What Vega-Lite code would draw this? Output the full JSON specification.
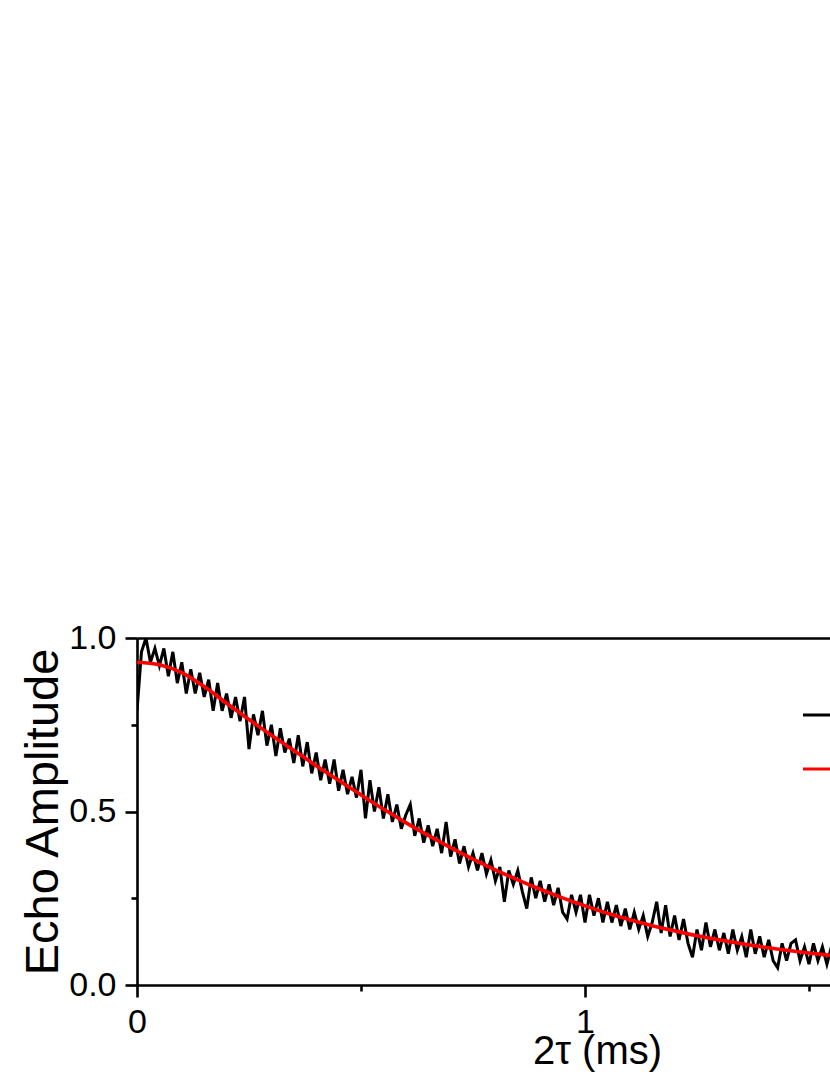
{
  "$schema": "https://vega.github.io/schema/vega-lite/v6.json",
  "autosize": {"type": "none"},
  "width": 693,
  "height": 347,
  "padding": {"left": 137, "top": 638, "right": 0, "bottom": 90},
  "background": "white",
  "config": {
    "view": {"stroke": null},
    "font": "Liberation Sans",
    "axis": {"grid": false, "domainColor": "black", "domainWidth": 2.6, "tickColor": "black", "tickWidth": 2.6, "labelColor": "black", "titleColor": "black", "labelFont": "Liberation Sans", "titleFont": "Liberation Sans", "labelFontSize": 34, "titleFontWeight": "normal", "labelFlush": false, "labelOverlap": false}
  },
  "datasets": {
    "data": [
      {"t":0.00,"amp":0.79,"series":"Data"},{"t":0.01,"amp":0.96,"series":"Data"},{"t":0.02,"amp":1.00,"series":"Data"},{"t":0.03,"amp":0.93,"series":"Data"},{"t":0.04,"amp":0.97,"series":"Data"},{"t":0.05,"amp":0.92,"series":"Data"},{"t":0.06,"amp":0.97,"series":"Data"},{"t":0.07,"amp":0.89,"series":"Data"},{"t":0.08,"amp":0.96,"series":"Data"},{"t":0.09,"amp":0.87,"series":"Data"},
      {"t":0.10,"amp":0.93,"series":"Data"},{"t":0.11,"amp":0.84,"series":"Data"},{"t":0.12,"amp":0.91,"series":"Data"},{"t":0.13,"amp":0.84,"series":"Data"},{"t":0.14,"amp":0.90,"series":"Data"},{"t":0.15,"amp":0.83,"series":"Data"},{"t":0.16,"amp":0.88,"series":"Data"},{"t":0.17,"amp":0.79,"series":"Data"},{"t":0.18,"amp":0.87,"series":"Data"},{"t":0.19,"amp":0.79,"series":"Data"},
      {"t":0.20,"amp":0.84,"series":"Data"},{"t":0.21,"amp":0.77,"series":"Data"},{"t":0.22,"amp":0.83,"series":"Data"},{"t":0.23,"amp":0.76,"series":"Data"},{"t":0.24,"amp":0.83,"series":"Data"},{"t":0.25,"amp":0.68,"series":"Data"},{"t":0.26,"amp":0.78,"series":"Data"},{"t":0.27,"amp":0.72,"series":"Data"},{"t":0.28,"amp":0.79,"series":"Data"},{"t":0.29,"amp":0.69,"series":"Data"},
      {"t":0.30,"amp":0.75,"series":"Data"},{"t":0.31,"amp":0.66,"series":"Data"},{"t":0.32,"amp":0.74,"series":"Data"},{"t":0.33,"amp":0.67,"series":"Data"},{"t":0.34,"amp":0.71,"series":"Data"},{"t":0.35,"amp":0.64,"series":"Data"},{"t":0.36,"amp":0.72,"series":"Data"},{"t":0.37,"amp":0.63,"series":"Data"},{"t":0.38,"amp":0.70,"series":"Data"},{"t":0.39,"amp":0.61,"series":"Data"},
      {"t":0.40,"amp":0.67,"series":"Data"},{"t":0.41,"amp":0.59,"series":"Data"},{"t":0.42,"amp":0.65,"series":"Data"},{"t":0.43,"amp":0.58,"series":"Data"},{"t":0.44,"amp":0.65,"series":"Data"},{"t":0.45,"amp":0.56,"series":"Data"},{"t":0.46,"amp":0.62,"series":"Data"},{"t":0.47,"amp":0.55,"series":"Data"},{"t":0.48,"amp":0.60,"series":"Data"},{"t":0.49,"amp":0.54,"series":"Data"},
      {"t":0.50,"amp":0.62,"series":"Data"},{"t":0.51,"amp":0.48,"series":"Data"},{"t":0.52,"amp":0.59,"series":"Data"},{"t":0.53,"amp":0.50,"series":"Data"},{"t":0.54,"amp":0.57,"series":"Data"},{"t":0.55,"amp":0.48,"series":"Data"},{"t":0.56,"amp":0.55,"series":"Data"},{"t":0.57,"amp":0.47,"series":"Data"},{"t":0.58,"amp":0.52,"series":"Data"},{"t":0.59,"amp":0.45,"series":"Data"},
      {"t":0.60,"amp":0.49,"series":"Data"},{"t":0.61,"amp":0.52,"series":"Data"},{"t":0.62,"amp":0.43,"series":"Data"},{"t":0.63,"amp":0.48,"series":"Data"},{"t":0.64,"amp":0.41,"series":"Data"},{"t":0.65,"amp":0.46,"series":"Data"},{"t":0.66,"amp":0.40,"series":"Data"},{"t":0.67,"amp":0.45,"series":"Data"},{"t":0.68,"amp":0.38,"series":"Data"},{"t":0.69,"amp":0.47,"series":"Data"},
      {"t":0.70,"amp":0.37,"series":"Data"},{"t":0.71,"amp":0.42,"series":"Data"},{"t":0.72,"amp":0.35,"series":"Data"},{"t":0.73,"amp":0.40,"series":"Data"},{"t":0.74,"amp":0.34,"series":"Data"},{"t":0.75,"amp":0.38,"series":"Data"},{"t":0.76,"amp":0.33,"series":"Data"},{"t":0.77,"amp":0.38,"series":"Data"},{"t":0.78,"amp":0.32,"series":"Data"},{"t":0.79,"amp":0.36,"series":"Data"},
      {"t":0.80,"amp":0.30,"series":"Data"},{"t":0.81,"amp":0.34,"series":"Data"},{"t":0.82,"amp":0.24,"series":"Data"},{"t":0.83,"amp":0.33,"series":"Data"},{"t":0.84,"amp":0.29,"series":"Data"},{"t":0.85,"amp":0.33,"series":"Data"},{"t":0.86,"amp":0.27,"series":"Data"},{"t":0.87,"amp":0.22,"series":"Data"},{"t":0.88,"amp":0.31,"series":"Data"},{"t":0.89,"amp":0.25,"series":"Data"},
      {"t":0.90,"amp":0.30,"series":"Data"},{"t":0.91,"amp":0.24,"series":"Data"},{"t":0.92,"amp":0.29,"series":"Data"},{"t":0.93,"amp":0.23,"series":"Data"},{"t":0.94,"amp":0.28,"series":"Data"},{"t":0.95,"amp":0.21,"series":"Data"},{"t":0.96,"amp":0.19,"series":"Data"},{"t":0.97,"amp":0.26,"series":"Data"},{"t":0.98,"amp":0.21,"series":"Data"},{"t":0.99,"amp":0.26,"series":"Data"},
      {"t":1.00,"amp":0.18,"series":"Data"},{"t":1.01,"amp":0.26,"series":"Data"},{"t":1.02,"amp":0.20,"series":"Data"},{"t":1.03,"amp":0.25,"series":"Data"},{"t":1.04,"amp":0.18,"series":"Data"},{"t":1.05,"amp":0.24,"series":"Data"},{"t":1.06,"amp":0.18,"series":"Data"},{"t":1.07,"amp":0.23,"series":"Data"},{"t":1.08,"amp":0.17,"series":"Data"},{"t":1.09,"amp":0.22,"series":"Data"},
      {"t":1.10,"amp":0.16,"series":"Data"},{"t":1.11,"amp":0.21,"series":"Data"},{"t":1.12,"amp":0.16,"series":"Data"},{"t":1.13,"amp":0.20,"series":"Data"},{"t":1.14,"amp":0.14,"series":"Data"},{"t":1.15,"amp":0.18,"series":"Data"},{"t":1.16,"amp":0.24,"series":"Data"},{"t":1.17,"amp":0.15,"series":"Data"},{"t":1.18,"amp":0.23,"series":"Data"},{"t":1.19,"amp":0.14,"series":"Data"},
      {"t":1.20,"amp":0.20,"series":"Data"},{"t":1.21,"amp":0.13,"series":"Data"},{"t":1.22,"amp":0.19,"series":"Data"},{"t":1.23,"amp":0.12,"series":"Data"},{"t":1.24,"amp":0.08,"series":"Data"},{"t":1.25,"amp":0.16,"series":"Data"},{"t":1.26,"amp":0.10,"series":"Data"},{"t":1.27,"amp":0.18,"series":"Data"},{"t":1.28,"amp":0.11,"series":"Data"},{"t":1.29,"amp":0.16,"series":"Data"},
      {"t":1.30,"amp":0.10,"series":"Data"},{"t":1.31,"amp":0.15,"series":"Data"},{"t":1.32,"amp":0.09,"series":"Data"},{"t":1.33,"amp":0.16,"series":"Data"},{"t":1.34,"amp":0.10,"series":"Data"},{"t":1.35,"amp":0.14,"series":"Data"},{"t":1.36,"amp":0.08,"series":"Data"},{"t":1.37,"amp":0.16,"series":"Data"},{"t":1.38,"amp":0.09,"series":"Data"},{"t":1.39,"amp":0.14,"series":"Data"},
      {"t":1.40,"amp":0.08,"series":"Data"},{"t":1.41,"amp":0.13,"series":"Data"},{"t":1.42,"amp":0.07,"series":"Data"},{"t":1.43,"amp":0.05,"series":"Data"},{"t":1.44,"amp":0.12,"series":"Data"},{"t":1.45,"amp":0.07,"series":"Data"},{"t":1.46,"amp":0.12,"series":"Data"},{"t":1.47,"amp":0.13,"series":"Data"},{"t":1.48,"amp":0.07,"series":"Data"},{"t":1.49,"amp":0.11,"series":"Data"},
      {"t":1.50,"amp":0.06,"series":"Data"},{"t":1.51,"amp":0.12,"series":"Data"},{"t":1.52,"amp":0.07,"series":"Data"},{"t":1.53,"amp":0.11,"series":"Data"},{"t":1.54,"amp":0.06,"series":"Data"},{"t":1.55,"amp":0.11,"series":"Data"},{"t":1.56,"amp":0.07,"series":"Data"},{"t":1.57,"amp":0.10,"series":"Data"},{"t":1.58,"amp":0.06,"series":"Data"},{"t":1.59,"amp":0.10,"series":"Data"},{"t":1.60,"amp":0.08,"series":"Data"}
    ],
    "fit": [
      {"t":0.00,"amp":0.930,"series":"Fit"},{"t":0.05,"amp":0.923,"series":"Fit"},{"t":0.10,"amp":0.900,"series":"Fit"},{"t":0.15,"amp":0.860,"series":"Fit"},{"t":0.20,"amp":0.812,"series":"Fit"},{"t":0.25,"amp":0.765,"series":"Fit"},{"t":0.30,"amp":0.720,"series":"Fit"},{"t":0.35,"amp":0.676,"series":"Fit"},{"t":0.40,"amp":0.632,"series":"Fit"},{"t":0.45,"amp":0.590,"series":"Fit"},
      {"t":0.50,"amp":0.548,"series":"Fit"},{"t":0.55,"amp":0.507,"series":"Fit"},{"t":0.60,"amp":0.468,"series":"Fit"},{"t":0.65,"amp":0.431,"series":"Fit"},{"t":0.70,"amp":0.396,"series":"Fit"},{"t":0.75,"amp":0.363,"series":"Fit"},{"t":0.80,"amp":0.332,"series":"Fit"},{"t":0.85,"amp":0.303,"series":"Fit"},{"t":0.90,"amp":0.276,"series":"Fit"},{"t":0.95,"amp":0.251,"series":"Fit"},
      {"t":1.00,"amp":0.228,"series":"Fit"},{"t":1.05,"amp":0.207,"series":"Fit"},{"t":1.10,"amp":0.188,"series":"Fit"},{"t":1.15,"amp":0.171,"series":"Fit"},{"t":1.20,"amp":0.156,"series":"Fit"},{"t":1.25,"amp":0.142,"series":"Fit"},{"t":1.30,"amp":0.130,"series":"Fit"},{"t":1.35,"amp":0.119,"series":"Fit"},{"t":1.40,"amp":0.109,"series":"Fit"},{"t":1.45,"amp":0.100,"series":"Fit"},
      {"t":1.50,"amp":0.092,"series":"Fit"},{"t":1.55,"amp":0.085,"series":"Fit"},{"t":1.60,"amp":0.079,"series":"Fit"}
    ]
  },
  "resolve": {"axis": {"x": "independent", "y": "independent"}},
  "layer": [
    {
      "data": {"name": "data"},
      "mark": {"type": "line", "strokeWidth": 3, "clip": true, "interpolate": "linear"},
      "encoding": {
        "x": {"field": "t", "type": "quantitative", "scale": {"domain": [0, 1.5469], "nice": false, "zero": false},
          "axis": {"orient": "bottom", "values": [0, 1], "format": "d", "tickSize": 12, "labelPadding": 8, "domain": true,
            "title": "2τ (ms)", "titleFontSize": 40, "titleX": 460, "titleY": 78, "titleBaseline": "alphabetic", "titleAlign": "center", "titleAnchor": null}},
        "y": {"field": "amp", "type": "quantitative", "scale": {"domain": [0, 1], "nice": false},
          "axis": {"orient": "left", "values": [0, 0.5, 1], "format": ".1f", "tickSize": 12, "labelPadding": 9, "domain": true,
            "title": "Echo Amplitude", "titleFontSize": 47, "titleX": -80, "titleY": 173.5, "titleAngle": -90, "titleBaseline": "alphabetic", "titleAlign": "center", "titleAnchor": null}},
        "color": {"field": "series", "type": "nominal", "scale": {"domain": ["Data", "Fit"], "range": ["#000000", "#ff0000"]},
          "legend": {"orient": "none", "legendX": 664, "legendY": 55, "title": null, "symbolType": "stroke", "symbolSize": 1600, "symbolStrokeWidth": 3.2, "labelFontSize": 30, "labelFont": "Liberation Sans", "rowPadding": 17, "labelOffset": 10}}
      }
    },
    {
      "data": {"name": "fit"},
      "mark": {"type": "line", "strokeWidth": 3.6, "clip": true, "interpolate": "monotone"},
      "encoding": {
        "x": {"field": "t", "type": "quantitative",
          "axis": {"orient": "bottom", "values": [0.5, 1.5], "tickSize": 6, "labels": false, "domain": false, "title": null}},
        "y": {"field": "amp", "type": "quantitative",
          "axis": {"orient": "left", "values": [0.25, 0.75], "tickSize": 6, "labels": false, "domain": false, "title": null}},
        "color": {"field": "series", "type": "nominal"}
      }
    },
    {
      "data": {"name": "fit"},
      "mark": {"type": "line", "opacity": 0, "clip": true},
      "encoding": {
        "x": {"field": "t", "type": "quantitative",
          "axis": {"orient": "top", "ticks": false, "labels": false, "domain": true, "title": null}},
        "y": {"field": "amp", "type": "quantitative", "axis": null}
      }
    }
  ]
}
